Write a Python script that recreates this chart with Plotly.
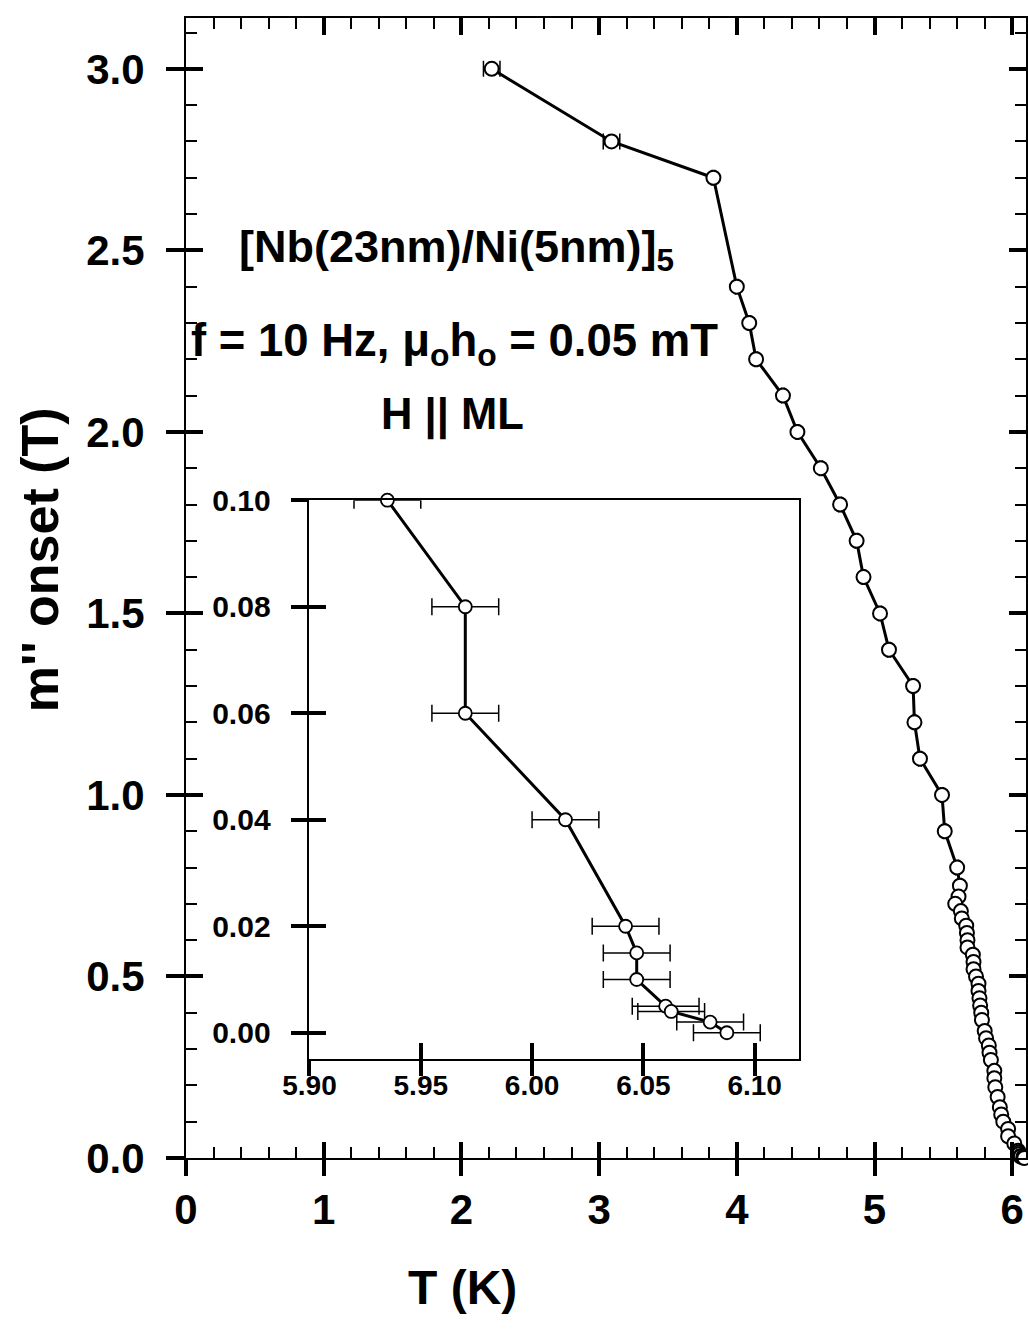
import plotly.graph_objects as go

# ---- main curve: onset field vs temperature ----
main_T = [2.22, 3.09, 3.83, 4.00, 4.09, 4.14, 4.335, 4.44, 4.61, 4.75, 4.87, 4.92,
          5.04, 5.105, 5.28, 5.29, 5.33, 5.49, 5.51, 5.60, 5.62,
          5.61, 5.586, 5.627, 5.634, 5.666, 5.671, 5.675, 5.675, 5.714, 5.719,
          5.719, 5.737, 5.755, 5.755, 5.762, 5.767, 5.775, 5.78, 5.80, 5.81,
          5.83, 5.835, 5.845, 5.87, 5.87, 5.877, 5.894, 5.91, 5.92,
          5.935, 5.97, 5.97, 6.015, 6.042, 6.047, 6.047, 6.060, 6.0625, 6.080, 6.0875]
main_H = [3.00, 2.80, 2.70, 2.40, 2.30, 2.20, 2.10, 2.00, 1.90, 1.80, 1.70, 1.60,
          1.50, 1.40, 1.30, 1.20, 1.10, 1.00, 0.90, 0.80, 0.75,
          0.72, 0.70, 0.68, 0.66, 0.64, 0.62, 0.60, 0.58, 0.56, 0.54,
          0.52, 0.50, 0.48, 0.46, 0.44, 0.42, 0.40, 0.38, 0.35, 0.33,
          0.31, 0.29, 0.27, 0.24, 0.22, 0.195, 0.168, 0.14, 0.12,
          0.10, 0.08, 0.06, 0.04, 0.02, 0.015, 0.010, 0.005, 0.004, 0.002, 0.0]
main_dT = [0.06, 0.06] + [0.01] * 59

# ---- inset: low-field region ----
inset_T = [5.935, 5.970, 5.970, 6.015, 6.042, 6.047, 6.047, 6.060, 6.0625, 6.080, 6.0875]
inset_H = [0.10, 0.08, 0.06, 0.04, 0.02, 0.015, 0.010, 0.005, 0.004, 0.002, 0.0]
inset_dT = [0.015] * 11

main_xticks = [0, 1, 2, 3, 4, 5, 6]
main_yticks = [0.0, 0.5, 1.0, 1.5, 2.0, 2.5, 3.0]
inset_xticks = [5.90, 5.95, 6.00, 6.05, 6.10]
inset_yticks = [0.00, 0.02, 0.04, 0.06, 0.08, 0.10]

FONT = "Liberation Sans"
BLACK = "#000000"

fig = go.Figure()

fig.add_trace(go.Scatter(
    x=main_T, y=main_H, mode="lines+markers",
    line=dict(color=BLACK, width=3),
    marker=dict(size=14, color="white", line=dict(color=BLACK, width=2)),
    error_x=dict(type="data", array=main_dT, color=BLACK, thickness=1.5, width=8),
    cliponaxis=False, showlegend=False, xaxis="x", yaxis="y",
))

fig.add_trace(go.Scatter(
    x=inset_T, y=inset_H, mode="lines+markers",
    line=dict(color=BLACK, width=3),
    marker=dict(size=13, color="white", line=dict(color=BLACK, width=1.8)),
    error_x=dict(type="data", array=inset_dT, color=BLACK, thickness=1.5, width=8.5),
    cliponaxis=False, showlegend=False, xaxis="x2", yaxis="y2",
))

# invisible traces so the extra tick axes get drawn
for xa, ya in (("x3", "y3"), ("x4", "y4"), ("x5", "y5")):
    fig.add_trace(go.Scatter(x=[None], y=[None], xaxis=xa, yaxis=ya,
                             showlegend=False, hoverinfo="skip"))

XR = [0, 6.1]
YR = [0, 3.14]
IXR = [5.90, 6.12]
IYR = [-0.005, 0.10]
tickfont_main = dict(family=FONT, size=42, color=BLACK, weight="bold")
tickfont_inset_y = dict(family=FONT, size=30, color=BLACK, weight="bold")
tickfont_inset_x = dict(family=FONT, size=28, color=BLACK, weight="bold")

plain = dict(showgrid=False, zeroline=False)
minor_x = dict(dtick=0.2, tick0=0, ticks="inside", ticklen=11, tickwidth=2,
               tickcolor=BLACK)
minor_y = dict(dtick=0.1, tick0=0, ticks="inside", ticklen=11, tickwidth=2,
               tickcolor=BLACK)

fig.update_layout(
    width=1028, height=1329,
    margin=dict(l=186, r=2, t=14, b=171),
    paper_bgcolor="white", plot_bgcolor="white",
    showlegend=False,
    # bottom axis: labels + inward half of crossing major ticks + minor ticks
    xaxis=dict(range=XR, domain=[0, 1], anchor="y", tickvals=main_xticks,
               ticks="inside", ticklen=16, tickwidth=3.5, tickcolor=BLACK,
               showline=True, linecolor=BLACK, linewidth=2,
               tickfont=tickfont_main, ticklabelstandoff=14, minor=minor_x,
               **plain),
    # bottom axis: outward half of the major ticks
    xaxis3=dict(range=XR, overlaying="x", anchor="y3", side="bottom",
                tickvals=main_xticks, ticks="outside", ticklen=17, tickwidth=3.5,
                tickcolor=BLACK, showticklabels=False, showline=False, **plain),
    # top frame with inward ticks
    xaxis5=dict(range=XR, overlaying="x", anchor="y5", side="top",
                tickvals=main_xticks, ticks="inside", ticklen=17, tickwidth=3.5,
                tickcolor=BLACK, showticklabels=False, showline=True,
                linecolor=BLACK, linewidth=2, minor=minor_x, **plain),
    # left axis: labels + outward half of crossing major ticks
    yaxis=dict(range=YR, domain=[0, 1], anchor="x", tickvals=main_yticks,
               tickformat=".1f",
               ticks="outside", ticklen=18, tickwidth=3.5, tickcolor=BLACK,
               showline=True, linecolor=BLACK, linewidth=2,
               tickfont=tickfont_main, ticklabelstandoff=13, **plain),
    # left axis: inward half of major ticks + minor ticks
    yaxis3=dict(range=YR, overlaying="y", anchor="x3", side="left",
                tickvals=main_yticks, ticks="inside", ticklen=17, tickwidth=3.5,
                tickcolor=BLACK, showticklabels=False, showline=False,
                minor=minor_y, **plain),
    # right frame with inward ticks
    yaxis5=dict(range=YR, overlaying="y", anchor="x5", side="right",
                tickvals=main_yticks, ticks="inside", ticklen=17, tickwidth=3.5,
                tickcolor=BLACK, showticklabels=False, showline=True,
                linecolor=BLACK, linewidth=2, minor=minor_y, **plain),
    # inset axes
    xaxis2=dict(range=IXR, domain=[0.147, 0.730], anchor="y2",
                tickvals=inset_xticks, tickformat=".2f",
                ticks="inside", ticklen=16, tickwidth=4, tickcolor=BLACK,
                showline=True, linecolor=BLACK, linewidth=1.8, mirror=True,
                tickfont=tickfont_inset_x, ticklabelstandoff=0, **plain),
    xaxis4=dict(range=IXR, overlaying="x2", anchor="y4", side="bottom",
                tickvals=inset_xticks, ticks="outside", ticklen=16, tickwidth=4,
                tickcolor=BLACK, showticklabels=False, showline=False, **plain),
    yaxis2=dict(range=IYR, domain=[0.0865, 0.577], anchor="x2",
                tickvals=inset_yticks, tickformat=".2f",
                ticks="outside", ticklen=17, tickwidth=4, tickcolor=BLACK,
                showline=True, linecolor=BLACK, linewidth=1.8, mirror=True,
                tickfont=tickfont_inset_y, ticklabelstandoff=14, **plain),
    yaxis4=dict(range=IYR, overlaying="y2", anchor="x4", side="left",
                tickvals=inset_yticks, ticks="inside", ticklen=17, tickwidth=4,
                tickcolor=BLACK, showticklabels=False, showline=False, **plain),
)

# the inset sits on a white panel above the main plot area
fig.add_shape(type="rect", xref="x2 domain", yref="y2 domain",
              x0=0, x1=1, y0=0, y1=1, fillcolor="white", line=dict(width=0),
              layer="below")

def bold(size):
    return dict(family=FONT, size=size, color=BLACK, weight="bold")

fig.add_annotation(text="[Nb(23nm)/Ni(5nm)]<sub>5</sub>", xref="paper", yref="paper",
                   x=0.322, y=0.797, xanchor="center", yanchor="middle",
                   showarrow=False, font=bold(45))
fig.add_annotation(text="f = 10 Hz, \u03bc<sub>o</sub>h<sub>o</sub> = 0.05 mT",
                   xref="paper", yref="paper", x=0.320, y=0.714,
                   xanchor="center", yanchor="middle", showarrow=False,
                   font=bold(45.5))
fig.add_annotation(text="H || ML", xref="paper", yref="paper", x=0.317, y=0.652,
                   xanchor="center", yanchor="middle", showarrow=False,
                   font=bold(43.5))

fig.add_annotation(text="m'' onset (T)", xref="paper", yref="paper",
                   x=-0.174, y=0.525, textangle=-90, xanchor="center",
                   yanchor="middle", showarrow=False, font=bold(52))
fig.add_annotation(text="T (K)", xref="paper", yref="paper", x=0.329, y=-0.114,
                   xanchor="center", yanchor="middle", showarrow=False,
                   font=bold(48))

fig.write_html("out.html")
